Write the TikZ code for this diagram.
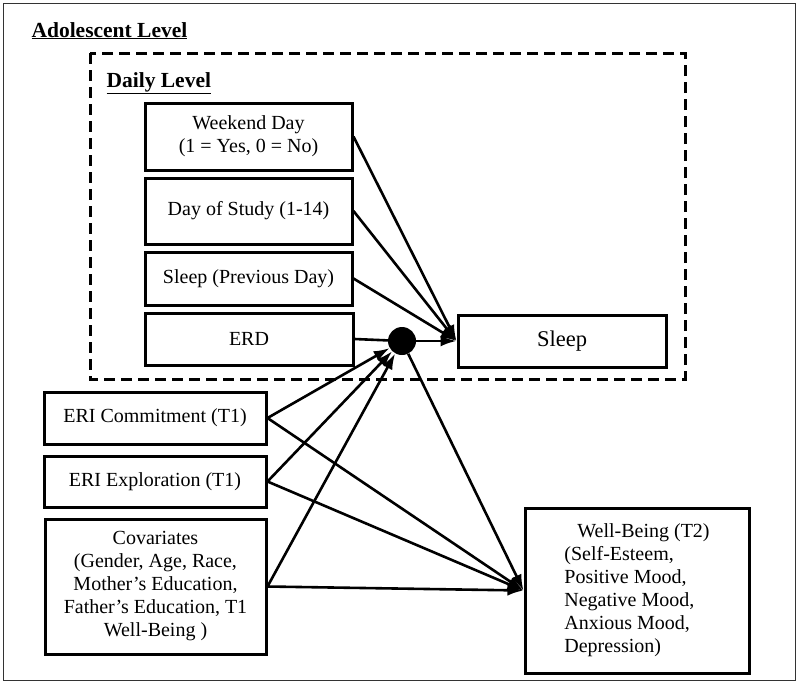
\documentclass[tikz,border=0pt]{standalone}
\usepackage{fontspec}
\setmainfont{Liberation Serif}
\usetikzlibrary{arrows.meta,positioning}

\begin{document}
\begin{tikzpicture}[x=1pt, y=-1pt,
every node/.style = {font=\fontsize{20}{23}\selectfont},
box/.style = {shape=rectangle, draw, line width=3pt, align=center, inner sep=2pt},
title/.style = {anchor=base west, font=\fontsize{21.5}{24}\selectfont\bfseries},
link/.style = {line width=2.6pt, -{Latex[length=16pt,width=11pt]}},
plain/.style = {line width=2.6pt}]
\useasboundingbox (0,0) rectangle (800,686);
\draw[line width=1pt, black!80] (3,3) rectangle (795,680);
\node[title] (adol) at (28,37) {\underline{Adolescent Level}};
\draw[line width=3pt, dash pattern=on 11pt off 6pt] (90,53) rectangle (685,379);
\node[title] (daily) at (103,87) {\underline{Daily Level}};

% daily level
\node[box, minimum width=207pt, minimum height=67pt] (weekend) at (248.5,136.5) {Weekend Day\\(1 = Yes, 0 = No)};
\node[box, minimum width=207pt, minimum height=66pt] (day) at (248.5,211) {Day of Study (1-14)};
\node[box, minimum width=207pt, minimum height=53pt] (prev) at (248.5,278.5) {Sleep (Previous Day)};
\node[box, minimum width=208pt, minimum height=52pt] (erd) at (249,339) {ERD};
\node[box, minimum width=208pt, minimum height=52pt, font=\fontsize{22.5}{25}\selectfont] (sleep) at (562,341) {Sleep};
\node[circle, fill, minimum size=28pt, inner sep=0pt] (hub) at (402,341) {};

% adolescent level
\node[box, minimum width=222pt, minimum height=52pt] (commit) at (155,418) {ERI Commitment (T1)};
\node[box, minimum width=222pt, minimum height=51pt] (explore) at (155,481.5) {ERI Exploration (T1)};
\node[box, minimum width=221pt, minimum height=135pt] (cov) at (155.5,586.5) {Covariates\\(Gender, Age, Race,\\Mother's Education,\\Father's Education, T1\\Well-Being )};
\node[box, minimum width=224pt, minimum height=165pt, align=left] (well) at (637,590.5) {\hspace{13pt}Well-Being (T2)\\(Self-Esteem,\\Positive Mood,\\Negative Mood,\\Anxious Mood,\\Depression)};

\draw[link] (weekend.east) -- (sleep.west);
\draw[link] (day.east) -- (sleep.west);
\draw[link] (prev.east) -- (sleep.west);
\draw[plain] (erd.east) -- (hub);
\draw[link] (hub) -- (sleep.west);
\draw[link] (commit.east) -- (hub);
\draw[link] (explore.east) -- (hub);
\draw[link] (cov.east) -- (hub);
\draw[link] (commit.east) -- (well.west);
\draw[link] (explore.east) -- (well.west);
\draw[link] (cov.east) -- (well.west);
\draw[link] (hub) -- (well.west);
\end{tikzpicture}
\end{document}
